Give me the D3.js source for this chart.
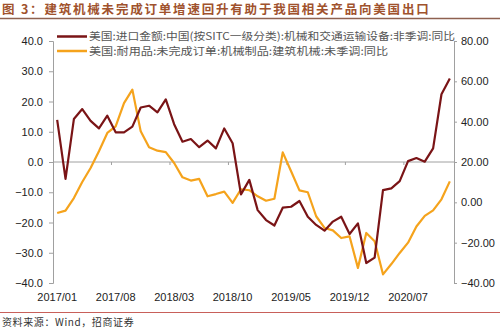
<!DOCTYPE html>
<html><head><meta charset="utf-8">
<script src="https://cdn.jsdelivr.net/npm/d3@7"></script>
<style>body{margin:0;background:#fff}svg{display:block}</style>
</head><body>
<script>
const months = [];
for (let y = 2017; y <= 2020; y++) for (let m = 1; m <= 12; m++) months.push(y + "/" + String(m).padStart(2, "0"));
const tickLabels = ["2017/01","2017/08","2018/03","2018/10","2019/05","2019/12","2020/07"];
const leftTicks = [40,30,20,10,0,-10,-20,-30,-40];
const rightTicks = [80,60,40,20,0,-20,-40];
const seriesNames = ["美国:进口金额:中国(按SITC一级分类):机械和交通运输设备:非季调:同比","美国:耐用品:未完成订单:机械制品:建筑机械:未季调:同比"];
// left axis series
const importYoY = [13.9,-5.6,14.2,17.5,13.6,11.1,15.3,9.8,9.8,11.7,18.0,18.6,
  16.4,20.7,12.5,6.7,7.6,4.9,7.1,4.5,11.1,6.2,-10.7,-5.9,
  -15.9,-19.2,-21.0,-15.1,-14.8,-12.9,-18.1,-20.8,-22.7,-19.7,-18.1,-23.8,
  -20.3,-33.4,-31.6,-9.3,-8.7,-6.3,0.3,1.3,0.1,4.5,22.4,27.6];
// right axis series
const ordersYoY = [-5.3,-4.1,2.1,10.1,17.0,25.3,34.4,37.7,49.2,55.9,35.2,27.3,
  25.6,24.9,19.5,12.4,10.8,11.6,3.0,4.1,5.3,-0.3,6.5,6.0,
  3.0,0.8,1.8,24.8,15.4,5.9,5.0,-6.9,-12.7,-13.9,-17.7,-16.9,
  -32.5,-15.2,-19.3,-35.7,-30.6,-25.1,-20.0,-12.0,-6.7,-4.0,1.5,10.4];

const W = 500, H = 330;
const svg = d3.select("body").append("svg").attr("width", W).attr("height", H);
const L = 53, R = 454, T = 41, B = 283;

const x = d3.scaleBand().domain(months).range([L, R]).padding(0);
const yL = d3.scaleLinear().domain([-40, 40]).range([B, T]);
const yR = d3.scaleLinear().domain([-40, 80]).range([B, T]);

// title
svg.append("text").attr("x", 2).attr("y", 14)
  .attr("font-family", "Noto Sans CJK SC").attr("font-weight", "bold").attr("font-size", 12.5)
  .attr("fill", "#A0522D").attr("letter-spacing", 1.8)
  .text("图 3：建筑机械未完成订单增速回升有助于我国相关产品向美国出口");
svg.append("line").attr("x1", 0).attr("x2", W).attr("y1", 18.5).attr("y2", 18.5)
  .attr("stroke", "#8E6150").attr("stroke-width", 1.5);

// axes
const axisCol = "#a0a0a0";
const font = "Liberation Sans, Arial, sans-serif";
const gL = svg.append("g").attr("transform", `translate(${L},0)`)
  .call(d3.axisLeft(yL).tickValues(leftTicks).tickFormat(d3.format(".1f")).tickSize(4).tickPadding(6));
const gR = svg.append("g").attr("transform", `translate(${R},0)`)
  .call(d3.axisRight(yR).tickValues(rightTicks).tickFormat(d3.format(".2f")).tickSize(3).tickPadding(4));
[gL, gR].forEach(g => {
  g.select(".domain").attr("stroke", axisCol);
  g.selectAll(".tick line").attr("stroke", axisCol);
  g.selectAll("text").attr("font-family", font).attr("font-size", 11).attr("fill", "#222");
});

// x axis along zero line
const tickIdx = tickLabels.map(t => months.indexOf(t));
svg.append("line").attr("x1", L).attr("x2", R).attr("y1", yL(0)).attr("y2", yL(0))
  .attr("stroke", axisCol).attr("stroke-width", 1);
svg.append("g").selectAll("line").data(tickIdx.slice(1)).join("line")
  .attr("x1", d => x(months[d])).attr("x2", d => x(months[d]))
  .attr("y1", yL(0)).attr("y2", yL(0) + 3).attr("stroke", axisCol);
svg.append("g").selectAll("text").data(tickLabels).join("text")
  .attr("x", d => x(d) + x.bandwidth() / 2).attr("y", 301)
  .attr("text-anchor", "middle").attr("font-family", font).attr("font-size", 11).attr("fill", "#222")
  .text(d => d);

// lines
const red = "#7A1416", orange = "#F5A31C";
const lineL = d3.line().x((d, i) => x(months[i]) + x.bandwidth() / 2).y(d => yL(d));
const lineR = d3.line().x((d, i) => x(months[i]) + x.bandwidth() / 2).y(d => yR(d));
svg.append("path").datum(ordersYoY).attr("d", lineR).attr("fill", "none")
  .attr("stroke", orange).attr("stroke-width", 2.2).attr("stroke-linejoin", "round");
svg.append("path").datum(importYoY).attr("d", lineL).attr("fill", "none")
  .attr("stroke", red).attr("stroke-width", 2.2).attr("stroke-linejoin", "round");

// legend
const leg = svg.append("g");
[[red, 36.5], [orange, 51]].forEach(([c, yy], i) => {
  leg.append("line").attr("x1", 57).attr("x2", 87).attr("y1", yy).attr("y2", yy)
    .attr("stroke", c).attr("stroke-width", 2.5);
  leg.append("text").attr("x", 89).attr("y", yy + 3.8)
    .attr("font-family", "Noto Sans CJK SC").attr("font-size", 10.5).attr("fill", "#555")
    .attr("textLength", i === 0 ? 366 : 299).attr("lengthAdjust", "spacingAndGlyphs")
    .text(seriesNames[i]);
});
gR.raise();

// footer
svg.append("line").attr("x1", 0).attr("x2", W).attr("y1", 312.5).attr("y2", 312.5)
  .attr("stroke", "#C8605A").attr("stroke-width", 1);
svg.append("text").attr("x", 2).attr("y", 326)
  .attr("font-family", "Noto Sans CJK SC").attr("font-size", 10).attr("fill", "#333")
  .attr("letter-spacing", 0.6)
  .text("资料来源：Wind，招商证券");
</script>
</body></html>
